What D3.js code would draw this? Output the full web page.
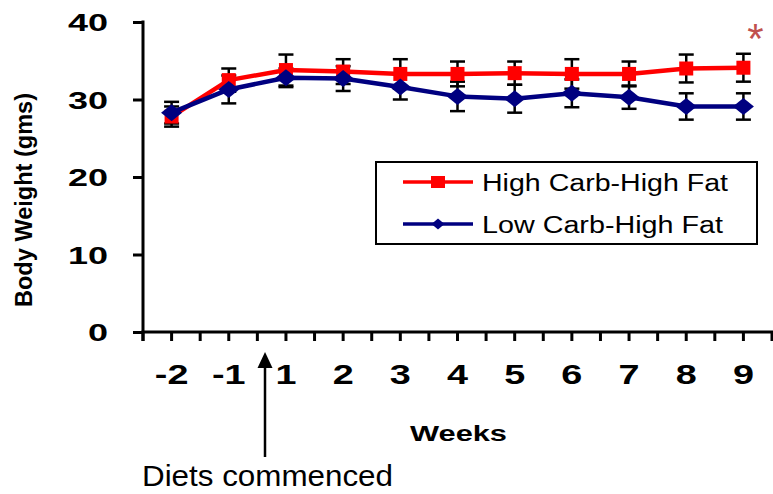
<!DOCTYPE html>
<html>
<head>
<meta charset="utf-8">
<script src="https://cdn.jsdelivr.net/npm/d3@7"></script>
<style>
  html, body { margin: 0; padding: 0; background: #fff; }
  svg { display: block; font-family: Arial, "Liberation Sans", sans-serif; }
</style>
</head>
<body>
<svg id="chart" width="773" height="494"></svg>
<script>
// ---- data ----
const weeks = ["-2", "-1", "1", "2", "3", "4", "5", "6", "7", "8", "9"];
const highCarbHighFat = [27.8, 32.5, 33.8, 33.6, 33.3, 33.3, 33.4, 33.3, 33.3, 34.0, 34.1];
const highCarbHighFatErr = [1.3, 1.5, 2.0, 1.6, 1.9, 1.6, 1.5, 1.9, 1.6, 1.8, 1.8];
const lowCarbHighFat = [28.3, 31.3, 32.8, 32.7, 31.6, 30.4, 30.1, 30.8, 30.3, 29.1, 29.1];
const lowCarbHighFatErr = [1.4, 1.8, 1.2, 1.6, 1.6, 1.9, 1.8, 1.8, 1.5, 1.7, 1.7];
const yTicks = [0, 10, 20, 30, 40];
const seriesNames = ["High Carb-High Fat", "Low Carb-High Fat"];

const svg = d3.select("#chart");
const pLeft = 143, pRight = 772, pTop = 22, pBottom = 332;

const x = d3.scaleBand().domain(weeks).range([pLeft, pRight]).padding(0);
const y = d3.scaleLinear().domain([0, 40]).range([pBottom, pTop]);
const cx = d => x(d) + x.bandwidth() / 2;

// ---- axes ----
const yAxis = svg.append("g").attr("transform", `translate(${pLeft},0)`)
  .call(d3.axisLeft(y).tickValues(yTicks).tickSize(10).tickPadding(0).tickFormat(d3.format("d")));
yAxis.select(".domain").remove();
yAxis.selectAll(".tick line").attr("stroke", "#000").attr("stroke-width", 3);
yAxis.selectAll(".tick text")
  .attr("x", -35 / 1.5).attr("dy", "0.36em")
  .attr("transform", "scale(1.5,1)")
  .style("font-size", "24px").style("font-weight", "bold").attr("fill", "#000")
  .style("font-family", "Arial, 'Liberation Sans', sans-serif");
svg.append("line").attr("x1", pLeft).attr("x2", pLeft).attr("y1", pTop - 1.5).attr("y2", pBottom + 9)
  .attr("stroke", "#000").attr("stroke-width", 3);

// x axis: ticks at band boundaries and band centres
const xg = svg.append("g").attr("transform", `translate(0,${pBottom})`);
xg.call(d3.axisBottom(x).tickSize(0).tickPadding(0));
xg.select(".domain").remove();
xg.selectAll(".tick line").remove();
xg.selectAll(".tick text")
  .attr("y", 52).attr("dy", 0)
  .attr("transform", "scale(1.4,1)")
  .style("font-size", "27px").style("font-weight", "bold").attr("fill", "#000")
  .style("font-family", "Arial, 'Liberation Sans', sans-serif");
svg.append("line").attr("x1", pLeft - 1.5).attr("x2", pRight + 1.5).attr("y1", pBottom).attr("y2", pBottom)
  .attr("stroke", "#000").attr("stroke-width", 3);
const tickPos = [];
weeks.forEach(w => { tickPos.push(x(w)); tickPos.push(cx(w)); });
tickPos.push(pRight);
svg.append("g").selectAll("line").data(tickPos).join("line")
  .attr("x1", d => d).attr("x2", d => d).attr("y1", pBottom).attr("y2", pBottom + 9)
  .attr("stroke", "#000").attr("stroke-width", 3);

// axis titles
svg.append("text").attr("transform", "translate(32,200) rotate(-90)")
  .attr("text-anchor", "middle").attr("textLength", 214).attr("lengthAdjust", "spacingAndGlyphs")
  .style("font-size", "24px").style("font-weight", "bold").text("Body Weight (gms)");
svg.append("text").attr("x", 410).attr("y", 441)
  .attr("textLength", 97).attr("lengthAdjust", "spacingAndGlyphs")
  .style("font-size", "22px").style("font-weight", "bold").text("Weeks");

// ---- series ----
const series = [
  { name: seriesNames[0], vals: highCarbHighFat, err: highCarbHighFatErr, color: "#ff0000", shape: "square" },
  { name: seriesNames[1], vals: lowCarbHighFat, err: lowCarbHighFatErr, color: "#000080", shape: "diamond" }
];

// error bars
series.forEach(s => {
  const g = svg.append("g").attr("stroke", "#000").attr("stroke-width", 2.5);
  weeks.forEach((w, i) => {
    const hi = y(s.vals[i] + s.err[i]), lo = y(s.vals[i] - s.err[i]), xc = cx(w);
    g.append("line").attr("x1", xc).attr("x2", xc).attr("y1", hi).attr("y2", lo);
    g.append("line").attr("x1", xc - 7.5).attr("x2", xc + 7.5).attr("y1", hi).attr("y2", hi);
    g.append("line").attr("x1", xc - 7.5).attr("x2", xc + 7.5).attr("y1", lo).attr("y2", lo);
  });
});

const line = d3.line().x(d => cx(d.w)).y(d => y(d.v));
const diamondPath = (w, h) => `M0,${-h/2}L${w/2},0L0,${h/2}L${-w/2},0Z`;

series.forEach(s => {
  const pts = weeks.map((w, i) => ({ w, v: s.vals[i] }));
  svg.append("path").datum(pts).attr("d", line)
    .attr("fill", "none").attr("stroke", s.color).attr("stroke-width", 4.5).attr("stroke-linejoin", "round");
  const mg = svg.append("g");
  pts.forEach(p => {
    if (s.shape === "square") {
      mg.append("rect").attr("x", cx(p.w) - 7).attr("y", y(p.v) - 7).attr("width", 14).attr("height", 14)
        .attr("fill", s.color);
    } else {
      mg.append("path").attr("transform", `translate(${cx(p.w)},${y(p.v)})`)
        .attr("d", diamondPath(21, 17)).attr("fill", s.color);
    }
  });
});

// significance asterisk
svg.append("text").attr("x", cx("9") + 12).attr("y", 53).attr("text-anchor", "middle")
  .style("font-size", "42px").attr("fill", "#c0504d").text("*");

// ---- legend ----
const lg = svg.append("g");
lg.append("rect").attr("x", 376).attr("y", 162).attr("width", 381).attr("height", 82)
  .attr("fill", "#fff").attr("stroke", "#000").attr("stroke-width", 2);
const legY = [182, 224], legText = [246, 241];
series.forEach((s, i) => {
  lg.append("line").attr("x1", 403).attr("x2", 473).attr("y1", legY[i]).attr("y2", legY[i])
    .attr("stroke", s.color).attr("stroke-width", 3.5);
  if (s.shape === "square") {
    lg.append("rect").attr("x", 438 - 7).attr("y", legY[i] - 6).attr("width", 14).attr("height", 12).attr("fill", s.color);
  } else {
    lg.append("path").attr("transform", `translate(438,${legY[i]})`).attr("d", diamondPath(13, 11)).attr("fill", s.color);
  }
  lg.append("text").attr("x", 482).attr("y", legY[i] + 9)
    .attr("textLength", legText[i]).attr("lengthAdjust", "spacingAndGlyphs")
    .style("font-size", "23px").text(s.name);
});

// ---- annotation ----
const ax = 265;
svg.append("line").attr("x1", ax).attr("x2", ax).attr("y1", 364).attr("y2", 457)
  .attr("stroke", "#000").attr("stroke-width", 2.5);
svg.append("path").attr("d", `M${ax},352L${ax + 7.5},368L${ax - 7.5},368Z`).attr("fill", "#000");
svg.append("text").attr("x", 142).attr("y", 486)
  .attr("textLength", 251).attr("lengthAdjust", "spacingAndGlyphs")
  .style("font-size", "30px").text("Diets commenced");
</script>
</body>
</html>
